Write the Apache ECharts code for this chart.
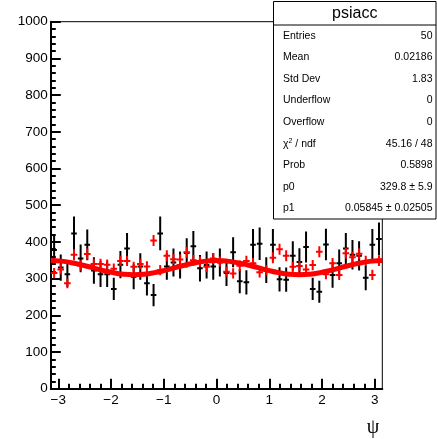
<!DOCTYPE html>
<html><head><meta charset="utf-8">
<script src="https://cdn.jsdelivr.net/npm/echarts@6/dist/echarts.min.js"></script>
<style>html,body{margin:0;padding:0;background:#fff}#c{width:437px;height:439px}</style>
</head><body><div id="c"></div>
<script>
// ---- data ----
const nBins = 50;
const blackVals = [378,330,312,423,355,392,322,312,312,272,338,382,305,333,287,255,423,333,344,337,370,388,328,337,333,344,315,372,293,290,392,395,323,392,298,297,362,345,386,272,264,393,310,342,382,365,362,302,392,408];
const blackErr  = [38,36,35,46,38,42,36,35,35,30,37,42,34,36,33,30,46,36,38,37,40,42,36,37,36,38,35,41,33,33,43,44,35,43,33,33,40,38,42,30,30,43,35,37,42,40,40,34,43,45];
const redVals   = [315,325,287,365,336,367,340,340,338,327,348,348,332,340,333,404,323,362,353,352,372,350,346,332,355,346,319,314,335,348,342,317,323,357,380,362,332,334,325,337,373,312,342,310,369,358,368,348,310,348];
const redErr    = [14,14,13,15,14,15,14,14,14,14,14,14,14,14,14,15,14,15,14,14,15,14,14,14,15,14,14,14,14,14,14,14,14,15,15,15,14,14,14,14,15,14,14,14,15,15,15,14,14,14];
const fitPsi  = [-3.1416,-2.9452,-2.7489,-2.5525,-2.3562,-2.1598,-1.9635,-1.7671,-1.5708,-1.3744,-1.1781,-0.9817,-0.7854,-0.5890,-0.3927,-0.1963,0,0.1963,0.3927,0.5890,0.7854,0.9817,1.1781,1.3744,1.5708,1.7671,1.9635,2.1598,2.3562,2.5525,2.7489,2.9452,3.1416];
const fitVals = [349.1,347.6,343.4,337.2,329.8,322.4,316.2,312.0,310.5,312.0,316.2,322.4,329.8,337.2,343.4,347.6,349.1,347.6,343.4,337.2,329.8,322.4,316.2,312.0,310.5,312.0,316.2,322.4,329.8,337.2,343.4,347.6,349.1];
const xTickLabels = [-3,-2,-1,0,1,2,3];
const yTickLabels = [0,100,200,300,400,500,600,700,800,900,1000];
const statsTitle = 'psiacc';
const statsRows = [
  ['Entries','50'],['Mean','0.02186'],['Std Dev','1.83'],['Underflow','0'],['Overflow','0'],
  ['{t|χ}{s|2}{t| / ndf}','45.16 / 48'],['Prob','0.5898'],['p0','329.8 ± 5.9'],['p1','0.05845 ± 0.02505']
];
const xTitle = 'ψ';

// ---- build ----
const PI = Math.PI;
const bw = 2*PI/nBins;
const centers = blackVals.map((_, i) => -PI + (i+0.5)*bw);
const blackData = blackVals.map((v,i)=>[centers[i], v, blackErr[i]]);
const redData = redVals.map((v,i)=>[centers[i], v, redErr[i]]);
const fitData = fitPsi.map((x,i)=>[x, fitVals[i]]);
const minorX = [];
for (let k=-15;k<=15;k++){ if (k%5!==0) minorX.push(+(k*0.2).toFixed(1)); }

function errRender(color, hw){
  return function(params, api){
    const x = api.value(0), y = api.value(1), e = api.value(2);
    const t = api.coord([x, y+e]), b = api.coord([x, y-e]);
    const c = api.coord([x, y]);
    return {type:'group', children:[
      {type:'line', shape:{x1:t[0],y1:t[1],x2:b[0],y2:b[1]}, style:{stroke:color, lineWidth:2}},
      {type:'line', shape:{x1:c[0]-hw,y1:c[1],x2:c[0]+hw,y2:c[1]}, style:{stroke:color, lineWidth:2}}
    ]};
  };
}

const FONT = 'Liberation Sans';
const grid = {left:50.8, right:54.7, top:21.7, bottom:50.3, show:true, borderColor:'#000', borderWidth:1};
const chart = echarts.init(document.getElementById('c'), null, {renderer:'canvas'});

const graphics = [];
const bx = 273.5, by = 1.5, bwid = 162.5, bh = 217.5;
graphics.push({type:'rect', z:100, shape:{x:bx,y:by,width:bwid,height:bh}, style:{fill:'#fff', stroke:'#000', lineWidth:1}});
graphics.push({type:'line', z:101, shape:{x1:bx,y1:25,x2:bx+bwid,y2:25}, style:{stroke:'#000', lineWidth:1}});
graphics.push({type:'text', z:102, x:bx+bwid/2, y:13.5, style:{text:statsTitle, font:'16px "'+FONT+'"', fill:'#000', align:'center', verticalAlign:'middle'}});
statsRows.forEach((r,i)=>{
  const yy = 25 + 21.6*(i+0.5);
  graphics.push({type:'text', z:102, x:bx+9.5, y:yy, style:{text:r[0], font:'10.5px "'+FONT+'"', fill:'#000', align:'left', verticalAlign:'middle',
    rich:{t:{fontSize:10.5, fontFamily:FONT, fill:'#000'}, s:{fontSize:7, fontFamily:FONT, fill:'#000', verticalAlign:'top', padding:[0,0,6,0]}}}});
  graphics.push({type:'text', z:102, x:bx+bwid-3.5, y:yy, style:{text:r[1], font:'10.5px "'+FONT+'"', fill:'#000', align:'right', verticalAlign:'middle'}});
});
graphics.push({type:'text', z:102, x:373, y:428, style:{text:xTitle, font:'20px "Liberation Serif"', fill:'#000', align:'center', verticalAlign:'middle'}});

const labelStyle = {fontFamily:FONT, fontSize:13.5, color:'#000'};
chart.setOption({
  animation:false,
  backgroundColor:'#fff',
  grid: grid,
  xAxis: [{
    type:'value', min:-PI, max:PI,
    axisLine:{show:true, onZero:false, lineStyle:{color:'#000', width:2}},
    axisTick:{show:true, inside:true, length:10, customValues:xTickLabels, lineStyle:{color:'#000', width:2}},
    axisLabel:{show:true, margin:5, customValues:xTickLabels, ...labelStyle, formatter:v=>String(v).replace('-','\u2212'), showMinLabel:true, showMaxLabel:true},
    splitLine:{show:false}
  },{
    type:'value', min:-PI, max:PI, position:'bottom',
    axisLine:{show:false, onZero:false},
    axisTick:{show:true, inside:true, length:5, customValues:minorX, lineStyle:{color:'#000', width:2}},
    axisLabel:{show:false},
    splitLine:{show:false}
  }],
  yAxis: {
    type:'value', min:0, max:1000, interval:100,
    axisLine:{show:true, onZero:false, lineStyle:{color:'#000', width:2}},
    axisTick:{show:true, inside:true, length:10, lineStyle:{color:'#000', width:2}},
    minorTick:{show:true, splitNumber:5, length:5, lineStyle:{color:'#000', width:2}},
    axisLabel:{margin:3, ...labelStyle, customValues:yTickLabels, formatter:v=>String(v)},
    splitLine:{show:false}
  },
  series: [
    {type:'custom', name:'black', xAxisIndex:0, renderItem:errRender('#000', 2.8), data:blackData, encode:{x:0,y:1}, z:2, clip:true},
    {type:'custom', name:'red', xAxisIndex:0, renderItem:errRender('#ff0000', 3.3), data:redData, encode:{x:0,y:1}, z:3, clip:true},
    {type:'line', name:'fit', xAxisIndex:0, data:fitData, smooth:true, showSymbol:false, symbol:'none', lineStyle:{color:'#ff0000', width:5}, z:4}
  ],
  graphic: graphics
});
</script></body></html>
